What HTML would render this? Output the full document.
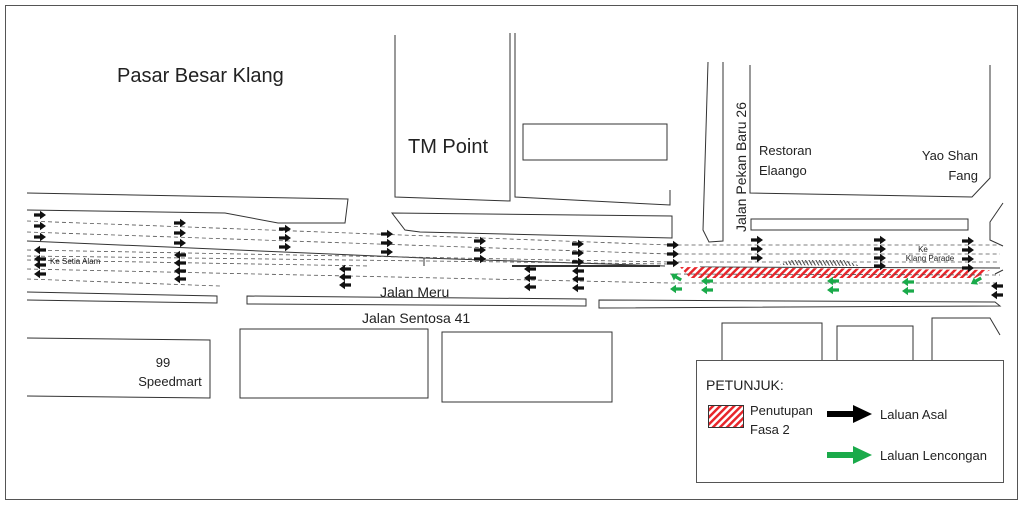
<!DOCTYPE html>
<html><head><meta charset="utf-8"><style>
html,body{margin:0;padding:0;background:#fff}
svg{display:block}
text{font-family:"Liberation Sans",sans-serif;fill:#222}
</style></head><body>
<svg width="1024" height="507" viewBox="0 0 1024 507" xmlns="http://www.w3.org/2000/svg">
<defs>
<pattern id="h" width="5" height="5" patternUnits="userSpaceOnUse" patternTransform="rotate(45)">
<rect width="5" height="5" fill="#fff"/><rect width="2.5" height="5" fill="#e8262b"/></pattern>
<pattern id="g" width="3" height="3" patternUnits="userSpaceOnUse" patternTransform="rotate(-30)">
<rect width="3" height="3" fill="#fff"/><rect width="1" height="3" fill="#444"/></pattern>
<g id="r"><path d="M-6,-1.6 L0,-1.6 L0,-4.2 L6,0 L0,4.2 L0,1.6 L-6,1.6 Z" fill="#111"/></g>
<g id="l"><path d="M6,-1.6 L0,-1.6 L0,-4.2 L-6,0 L0,4.2 L0,1.6 L6,1.6 Z" fill="#111"/></g>
<g id="gl"><path d="M6,-1.6 L0,-1.6 L0,-4.2 L-6,0 L0,4.2 L0,1.6 L6,1.6 Z" fill="#1aaa4a"/></g>
</defs>
<rect x="5.5" y="5.5" width="1012" height="494" fill="#fff" stroke="#555" stroke-width="1"/>
<g fill="none" stroke="#333" stroke-width="1">
<path d="M27,193 L348,199 L345,223 L278,223 L225,213 L27,210"/>
<path d="M395,35 L395,197 L510,201 L510,33"/>
<path d="M515,33 L515,197 L670,205 L670,190"/>
<rect x="523" y="124" width="144" height="36"/>
<path d="M392,213 L672,216 L672,238 L420,232 L405,230 Z"/>
<path d="M27,241 L424,258 L665,266"/>
<path d="M424,258 L424,266"/>
<path d="M512,266 L660,266" stroke-width="2"/>
<path d="M700,267 L1000,268"/>
<path d="M708,62 L703,230 L709,242 L723,241 L723,62"/>
<path d="M750,65 L750,193 L972,197 L990,178 L990,65"/>
<rect x="751" y="219" width="217" height="11"/>
<path d="M1003,203 L990,222 L990,240 L1003,246"/>
<path d="M27,292 L217,296 L217,303 L27,300"/>
<path d="M247,296 L586,299 L586,306 L247,304 Z"/>
<path d="M599,300 L995,302 L1000,306 L599,308 Z"/>
<path d="M995,274 L1003,270"/>
<path d="M27,338 L210,340 L210,398 L27,396"/>
<rect x="240" y="329" width="188" height="69"/>
<rect x="442" y="332" width="170" height="70"/>
<path d="M722,360 L722,323 L822,323 L822,360"/>
<path d="M837,360 L837,326 L913,326 L913,360"/>
<path d="M932,360 L932,318 L990,318 L1000,335"/>
</g>
<path d="M680,267 L990,270 L975,278 L690,278 Z" fill="url(#h)"/>
<path d="M780,265 L790,260 L845,260 L860,266 Z" fill="url(#g)"/>
<g fill="none" stroke="#555" stroke-width="0.8" stroke-dasharray="4,3">
<path d="M27,221 L670,245 L1000,245"/>
<path d="M27,232 L670,254 L1000,254"/>
<path d="M27,256 L670,264"/>
<path d="M27,260 L370,266"/>
<path d="M27,269 L670,283 L1000,283"/>
<path d="M27,279 L220,286"/>
<path d="M670,274 L1000,275"/>
<path d="M27,250 L670,262 L1000,262"/>
</g>
<g>
<use href="#r" x="40" y="215"/><use href="#r" x="40" y="226"/><use href="#r" x="40" y="237"/>
<use href="#r" x="180" y="223"/><use href="#r" x="180" y="233"/><use href="#r" x="180" y="243"/>
<use href="#r" x="285" y="229"/><use href="#r" x="285" y="238"/><use href="#r" x="285" y="247"/>
<use href="#r" x="387" y="234"/><use href="#r" x="387" y="243"/><use href="#r" x="387" y="252"/>
<use href="#r" x="480" y="241"/><use href="#r" x="480" y="250"/><use href="#r" x="480" y="259"/>
<use href="#r" x="578" y="244"/><use href="#r" x="578" y="253"/><use href="#r" x="578" y="262"/>
<use href="#r" x="673" y="245"/><use href="#r" x="673" y="254"/><use href="#r" x="673" y="263"/>
<use href="#r" x="757" y="240"/><use href="#r" x="757" y="249"/><use href="#r" x="757" y="258"/>
<use href="#r" x="880" y="240"/><use href="#r" x="880" y="249"/><use href="#r" x="880" y="258"/><use href="#r" x="880" y="266"/>
<use href="#r" x="968" y="241"/><use href="#r" x="968" y="250"/><use href="#r" x="968" y="259"/><use href="#r" x="968" y="268"/>
</g>
<g>
<use href="#l" x="40" y="250"/><use href="#l" x="40" y="259"/><use href="#l" x="40" y="265"/><use href="#l" x="40" y="274"/>
<use href="#l" x="180" y="255"/><use href="#l" x="180" y="263"/><use href="#l" x="180" y="271"/><use href="#l" x="180" y="279"/>
<use href="#l" x="345" y="269"/><use href="#l" x="345" y="277"/><use href="#l" x="345" y="285"/>
<use href="#l" x="530" y="269"/><use href="#l" x="530" y="278"/><use href="#l" x="530" y="287"/>
<use href="#l" x="578" y="271"/><use href="#l" x="578" y="279"/><use href="#l" x="578" y="288"/>
<use href="#l" x="997" y="286"/><use href="#l" x="997" y="295"/>
</g>
<g>
<use href="#gl" x="676" y="277" transform="rotate(30 676 277)"/><use href="#gl" x="676" y="289"/>
<use href="#gl" x="707" y="281"/><use href="#gl" x="707" y="290"/>
<use href="#gl" x="833" y="281"/><use href="#gl" x="833" y="290"/>
<use href="#gl" x="908" y="282"/><use href="#gl" x="908" y="291"/>
<use href="#gl" x="976" y="281" transform="rotate(-30 976 281)"/>
</g>
<text x="117" y="82" font-size="20">Pasar Besar Klang</text>
<text x="408" y="153" font-size="20">TM Point</text>
<text x="759" y="155" font-size="13">Restoran</text>
<text x="759" y="175" font-size="13">Elaango</text>
<text x="978" y="160" font-size="13" text-anchor="end">Yao Shan</text>
<text x="978" y="180" font-size="13" text-anchor="end">Fang</text>
<text x="0" y="0" font-size="14" transform="translate(746,232) rotate(-90)">Jalan Pekan Baru 26</text>
<text x="380" y="297" font-size="14">Jalan Meru</text>
<text x="362" y="323" font-size="14">Jalan Sentosa 41</text>
<text x="163" y="367" font-size="13" text-anchor="middle">99</text>
<text x="170" y="386" font-size="13" text-anchor="middle">Speedmart</text>
<text x="50" y="264" font-size="8" fill="#555">Ke Setia Alam</text>
<text x="923" y="252" font-size="8" text-anchor="middle" fill="#555">Ke</text>
<text x="930" y="261" font-size="8" text-anchor="middle" fill="#555">Klang Parade</text>
<rect x="696.5" y="360.5" width="307" height="122" fill="#fff" stroke="#555"/>
<text x="706" y="390" font-size="14">PETUNJUK:</text>
<rect x="708.5" y="405.5" width="35" height="22" fill="url(#h)" stroke="#333"/>
<text x="750" y="415" font-size="13">Penutupan</text>
<text x="750" y="434" font-size="13">Fasa 2</text>
<path d="M827,411 L853,411 L853,405 L872,414 L853,423 L853,417 L827,417 Z" fill="#000"/>
<text x="880" y="419" font-size="13">Laluan Asal</text>
<path d="M827,452 L853,452 L853,446 L872,455 L853,464 L853,458 L827,458 Z" fill="#1aaa4a"/>
<text x="880" y="460" font-size="13">Laluan Lencongan</text>
</svg>
</body></html>
